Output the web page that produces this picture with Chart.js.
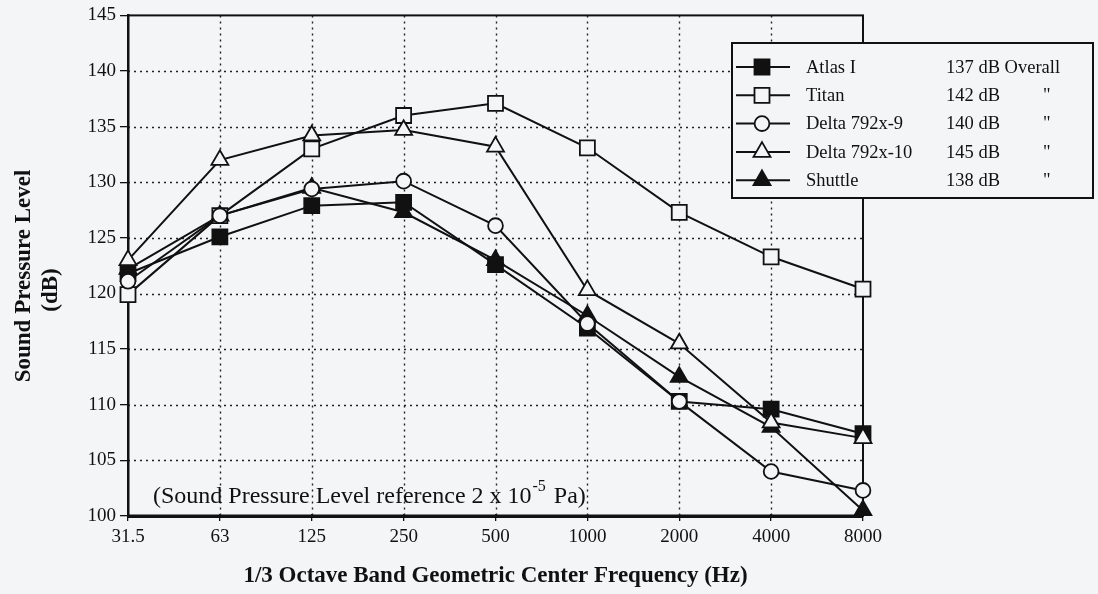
<!DOCTYPE html>
<html>
<head>
<meta charset="utf-8">
<script src="https://cdn.jsdelivr.net/npm/chart.js@4"></script>
<style>
  html, body { margin: 0; padding: 0; background: #f4f5f7; }
  #wrap { width: 1098px; height: 594px; }
</style>
</head>
<body>
<div id="wrap"><canvas id="splChart"></canvas></div>
<script>
var freqLabels = ['31.5', '63', '125', '250', '500', '1000', '2000', '4000', '8000'];
var atlasI   = [121.8, 125.1, 127.9, 128.2, 122.6, 116.9, 110.3, 109.6, 107.4];
var titan    = [119.9, 127.0, 133.0, 136.0, 137.1, 133.1, 127.3, 123.3, 120.4];
var delta9   = [121.1, 127.0, 129.4, 130.1, 126.1, 117.3, 110.3, 104.0, 102.3];
var delta10  = [123.0, 132.0, 134.2, 134.7, 133.2, 120.3, 115.5, 108.4, 107.0];
var shuttle  = [122.2, 127.0, 129.5, 127.3, 123.0, 118.0, 112.5, 108.0, 100.5];
var seriesNames = ['Atlas I', 'Titan', 'Delta 792x-9', 'Delta 792x-10', 'Shuttle'];
var overallDb = ['137 dB', '142 dB', '140 dB', '145 dB', '138 dB'];
var yTicks = [100, 105, 110, 115, 120, 125, 130, 135, 140, 145];

var paper = '#f4f5f7';
var serif = '"Liberation Serif", "Times New Roman", serif';
var sizes = { rect: 10.6, circle: 7.4, triangle: 9.8 };

function ds(label, data, style, filled, order) {
  return {
    label: label,
    data: data,
    order: order,
    borderColor: '#111',
    borderWidth: 2,
    pointStyle: style,
    pointRadius: sizes[style],
    pointBorderWidth: 1.8,
    pointBorderColor: '#111',
    pointBackgroundColor: filled ? '#111' : paper,
    tension: 0,
    fill: false
  };
}

// legend box, y title and reference note drawn on top of the chart
var extras = {
  id: 'extras',
  afterDraw: function(chart) {
    var ctx = chart.ctx;
    var meta = chart.data.datasets;
    ctx.save();

    // y axis title
    ctx.fillStyle = '#111';
    ctx.font = 'bold 23px ' + serif;
    ctx.textAlign = 'center';
    ctx.textBaseline = 'middle';
    ctx.save();
    ctx.translate(24, 276);
    ctx.rotate(-Math.PI / 2);
    ctx.fillText('Sound Pressure Level', 0, 0);
    ctx.fillText('(dB)', -14, 27);
    ctx.restore();

    // reference note
    ctx.font = '24px ' + serif;
    ctx.textAlign = 'left';
    ctx.textBaseline = 'alphabetic';
    var x0 = 153, y0 = 503;
    var t1 = '(Sound Pressure Level reference 2 x 10';
    ctx.fillText(t1, x0, y0);
    var w1 = ctx.measureText(t1).width;
    ctx.font = '16px ' + serif;
    ctx.fillText('-5', x0 + w1 + 1, y0 - 12);
    var w2 = ctx.measureText('-5').width;
    ctx.font = '24px ' + serif;
    ctx.fillText(' Pa)', x0 + w1 + w2 + 3, y0);

    // legend box
    var bx = 732, by = 43, bw = 361, bh = 155;
    ctx.fillStyle = paper;
    ctx.fillRect(bx, by, bw, bh);
    ctx.strokeStyle = '#111';
    ctx.lineWidth = 2;
    ctx.strokeRect(bx, by, bw, bh);
    ctx.font = '18.5px ' + serif;
    ctx.textBaseline = 'middle';
    for (var i = 0; i < meta.length; i++) {
      var ry = 67 + i * 28.3;
      ctx.strokeStyle = '#111';
      ctx.lineWidth = 2;
      ctx.beginPath();
      ctx.moveTo(736, ry);
      ctx.lineTo(790, ry);
      ctx.stroke();
      ctx.fillStyle = meta[i].pointBackgroundColor;
      ctx.lineWidth = 1.8;
      Chart.helpers.drawPoint(ctx, {
        pointStyle: meta[i].pointStyle,
        radius: meta[i].pointRadius,
        rotation: 0,
        borderWidth: 1.8
      }, 762, ry);
      ctx.fillStyle = '#111';
      ctx.textAlign = 'left';
      ctx.fillText(seriesNames[i], 806, ry + 1);
      ctx.fillText(overallDb[i] + (i === 0 ? ' Overall' : ''), 946, ry + 1);
      if (i > 0) ctx.fillText('"', 1043, ry + 1);
    }
    ctx.restore();
  }
};

new Chart(document.getElementById('splChart'), {
  type: 'line',
  data: {
    labels: freqLabels,
    datasets: [
      ds(seriesNames[0], atlasI, 'rect', true, 2),
      ds(seriesNames[1], titan, 'rect', false, 4),
      ds(seriesNames[2], delta9, 'circle', false, 0),
      ds(seriesNames[3], delta10, 'triangle', false, 1),
      ds(seriesNames[4], shuttle, 'triangle', true, 3)
    ]
  },
  options: {
    responsive: true,
    maintainAspectRatio: false,
    animation: false,
    layout: { padding: { left: 0, right: 235, top: 12, bottom: 0 } },
    plugins: {
      legend: { display: false },
      tooltip: { enabled: false }
    },
    scales: {
      x: {
        type: 'category',
        offset: false,
        afterFit: function(s) { s.height = 78; },
        grid: {
          color: '#222',
          lineWidth: 1.3,
          tickColor: '#111',
          tickLength: 5
        },
        border: { display: true, color: '#111', width: 3 },
        ticks: {
          color: '#111',
          font: { family: serif, size: 19 },
          maxRotation: 0,
          padding: 5
        },
        title: {
          display: true,
          text: '1/3 Octave Band Geometric Center Frequency (Hz)',
          color: '#111',
          font: { family: serif, size: 23, weight: 'bold' },
          padding: { top: 10, bottom: 4 }
        }
      },
      y: {
        min: 100,
        max: 145,
        afterFit: function(s) { s.width = 128; },
        afterBuildTicks: function(s) { s.ticks = yTicks.map(function(v) { return { value: v }; }); },
        grid: {
          color: '#222',
          lineWidth: 1.3,
          tickColor: '#111',
          tickLength: 8
        },
        border: { display: true, color: '#111', width: 2.5 },
        ticks: {
          color: '#111',
          font: { family: serif, size: 19 },
          padding: 4
        }
      }
    }
  },
  plugins: [{
    id: 'dots',
    beforeDatasetsDraw: function(chart) {
      // re-stroke grid as dotted lines, and frame the plot
      var a = chart.chartArea, ctx = chart.ctx;
      ctx.save();
      ctx.fillStyle = paper;
      ctx.fillRect(a.left + 2, a.top, a.right - a.left - 2, a.bottom - a.top - 2);
      ctx.strokeStyle = '#222';
      ctx.lineWidth = 1.4;
      ctx.setLineDash([2, 4]);
      var xs = chart.scales.x, ys = chart.scales.y;
      yTicks.forEach(function(v) {
        if (v === 100 || v === 145) return;
        var y = Math.round(ys.getPixelForValue(v)) + 0.5;
        ctx.beginPath(); ctx.moveTo(a.left, y); ctx.lineTo(a.right, y); ctx.stroke();
      });
      for (var i = 1; i < freqLabels.length - 1; i++) {
        var x = Math.round(xs.getPixelForValue(i)) + 0.5;
        ctx.beginPath(); ctx.moveTo(x, a.top); ctx.lineTo(x, a.bottom); ctx.stroke();
      }
      ctx.setLineDash([]);
      ctx.strokeStyle = '#111';
      ctx.lineWidth = 2;
      ctx.strokeRect(a.left, a.top, a.right - a.left, a.bottom - a.top);
      ctx.lineWidth = 3;
      ctx.beginPath(); ctx.moveTo(a.left, a.bottom); ctx.lineTo(a.right, a.bottom); ctx.stroke();
      ctx.restore();
    }
  }, extras]
});
</script>
</body>
</html>
